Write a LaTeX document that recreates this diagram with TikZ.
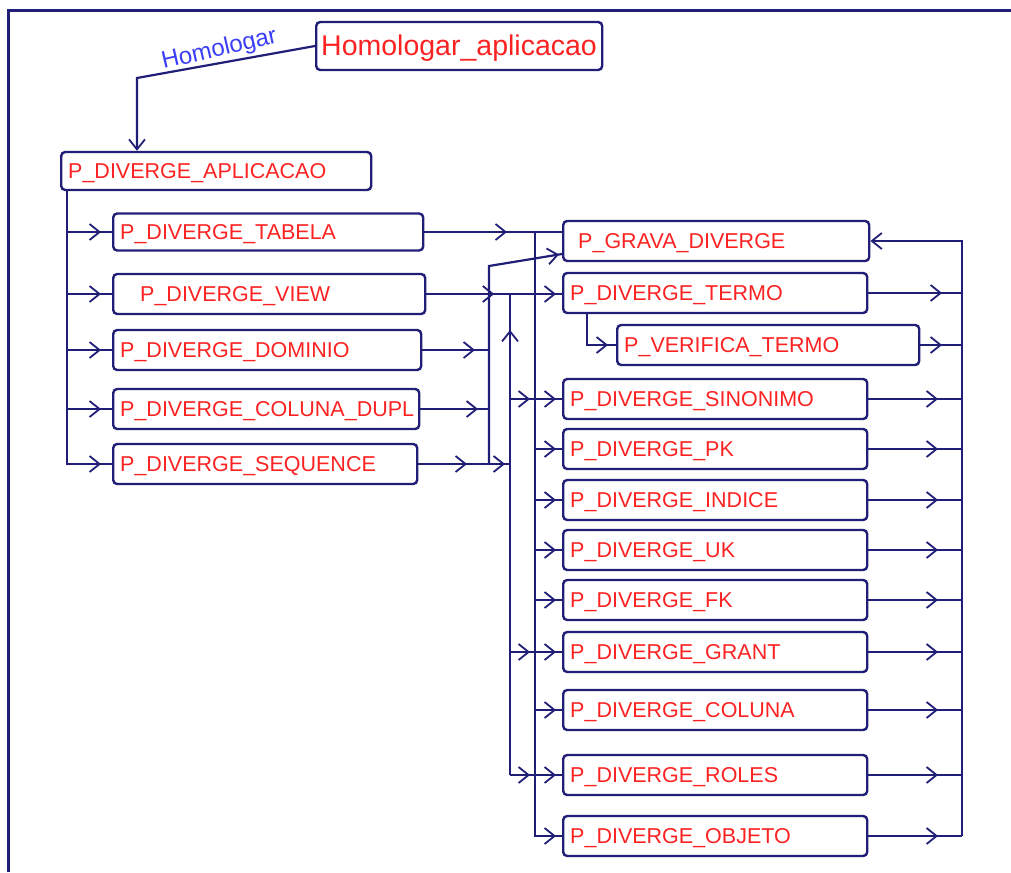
\documentclass[tikz,border=0pt]{standalone}
\usepackage{fontspec}
\setmainfont{Liberation Sans}
\usetikzlibrary{arrows.meta,decorations.markings}
\definecolor{navy}{RGB}{32,30,118}
\definecolor{fnred}{RGB}{252,34,34}
\definecolor{lblblue}{RGB}{58,62,246}

\begin{document}
\begin{tikzpicture}[x=1pt,y=-1pt,
  bb/.tip={Straight Barb[length=10pt,width=16pt,line width=1.8pt]},
  p/.style={draw=navy,line width=2.4pt,rounded corners=4pt,anchor=west,text=fnred,
    font=\fontsize{21.5}{21.5}\selectfont,inner xsep=7pt,inner ysep=0pt,minimum height=40pt,
    text height=14pt,text depth=0pt,text width=#1,align=left},
  p/.default=290pt,
  ln/.style={color=navy,line width=2.2pt},
  ar/.style={ln,postaction={decorate},decoration={markings,mark=at position #1 with {\arrow{bb}}}},
  arr/.style 2 args={ln,postaction={decorate},decoration={markings,
    mark=at position #1 with {\arrow{bb}},mark=at position #2 with {\arrow{bb}}}}]
\useasboundingbox (0,0) rectangle (1011,872);
% frame
\draw[navy,line width=3pt] (8,872) -- (8,10.5) -- (1011,10.5);

% boxes
\node[p=276pt,font=\fontsize{28.5}{28.5}\selectfont,inner xsep=5pt,minimum height=48pt,text height=20pt] (ha) at (315,46) {Homologar\_aplicacao};
\node[p=296pt,minimum height=38pt] (apl) at (60,171) {P\_DIVERGE\_APLICACAO};

\node[p=296pt,minimum height=37pt] (tab) at (112,232) {P\_DIVERGE\_TABELA};
\node[p=298pt] (view) at (112,294) {\hspace*{20pt}P\_DIVERGE\_VIEW};
\node[p=294pt] (dom) at (112,350) {P\_DIVERGE\_DOMINIO};
\node[p=292pt] (dupl) at (112,409) {P\_DIVERGE\_COLUNA\_DUPL};
\node[p=290pt] (seq) at (112,464) {P\_DIVERGE\_SEQUENCE};

\node[p=292pt] (grava) at (562,241) {\hspace*{8pt}P\_GRAVA\_DIVERGE};
\node[p] (termo) at (562,293) {P\_DIVERGE\_TERMO};
\node[p=288pt] (verif) at (616,345) {P\_VERIFICA\_TERMO};
\node[p] (sino) at (562,399) {P\_DIVERGE\_SINONIMO};
\node[p] (pk) at (562,449) {P\_DIVERGE\_PK};
\node[p] (ind) at (562,500) {P\_DIVERGE\_INDICE};
\node[p] (uk) at (562,550) {P\_DIVERGE\_UK};
\node[p] (fk) at (562,600) {P\_DIVERGE\_FK};
\node[p] (grant) at (562,652) {P\_DIVERGE\_GRANT};
\node[p] (col) at (562,710) {P\_DIVERGE\_COLUNA};
\node[p] (roles) at (562,775) {P\_DIVERGE\_ROLES};
\node[p] (obj) at (562,836) {P\_DIVERGE\_OBJETO};

% trunks
\coordinate (hk) at (137,78);
\coordinate (lt) at ([xshift=7pt]apl.south west);
\coordinate (tc) at (489,0);
\coordinate (ck) at (489,266);
\coordinate (tb) at (510,0);
\coordinate (ta) at (535,0);
\coordinate (rt) at (962,0);

% Homologar
\draw[ln,-bb] (ha.west) -- node[pos=0.52,rotate=13,anchor=south,inner sep=1pt,text=lblblue,font=\fontsize{24}{24}\selectfont] (hlbl) {Homologar} (hk) -- (hk |- apl.north);

% left side
\draw[ar=-11pt] (lt) |- (seq.west);
\draw[ar=-11pt] (lt |- tab.west) -- (tab.west);
\draw[ar=-11pt] (lt |- view.west) -- (view.west);
\draw[ar=-11pt] (lt |- dom.west) -- (dom.west);
\draw[ar=-11pt] (lt |- dupl.west) -- (dupl.west);

% middle
\draw[ar=0.6] (tab.east) -- (tab.east -| grava.west);
\draw[arr={0.5}{-6pt}] (view.east) -- (view.east -| termo.west);
\draw[ar=-14pt] (dom.east) -- (tc |- dom.east);
\draw[ar=-11pt] (dupl.east) -- (tc |- dupl.east);
\draw[arr={-43pt}{-5pt}] (seq.east) -- (tb |- seq.east);
\draw[ar=-3pt] (tc |- seq.east) -- (ck) -- ([yshift=-13pt]grava.west);
\draw[ar=-36pt] (tb |- roles.west) -- (tb |- view.east);
\draw[ar=-5pt] (tb |- sino.west) -- (ta |- sino.west);
\draw[ar=-5pt] (tb |- grant.west) -- (ta |- grant.west);
\draw[ar=-5pt] (tb |- roles.west) -- (ta |- roles.west);
\draw[ar=-6pt] (ta |- tab.east) |- (obj.west);
\draw[ar=-6pt] (ta |- sino.west) -- (sino.west);
\draw[ar=-6pt] (ta |- pk.west) -- (pk.west);
\draw[ar=-6pt] (ta |- ind.west) -- (ind.west);
\draw[ar=-6pt] (ta |- uk.west) -- (uk.west);
\draw[ar=-6pt] (ta |- fk.west) -- (fk.west);
\draw[ar=-6pt] (ta |- grant.west) -- (grant.west);
\draw[ar=-6pt] (ta |- col.west) -- (col.west);
\draw[ar=-6pt] (ta |- roles.west) -- (roles.west);
\draw[ar=-8pt] ([xshift=25pt]termo.south west) |- (verif.west);

% right side
\draw[ln,-bb] (rt |- obj.east) -- (rt |- grava.east) -- (grava.east);
\draw[ar=-20pt] (termo.east) -- (rt |- termo.east);
\draw[ar=-20pt] (verif.east) -- (rt |- verif.east);
\draw[ar=-24pt] (sino.east) -- (rt |- sino.east);
\draw[ar=-24pt] (pk.east) -- (rt |- pk.east);
\draw[ar=-24pt] (ind.east) -- (rt |- ind.east);
\draw[ar=-24pt] (uk.east) -- (rt |- uk.east);
\draw[ar=-24pt] (fk.east) -- (rt |- fk.east);
\draw[ar=-24pt] (grant.east) -- (rt |- grant.east);
\draw[ar=-24pt] (col.east) -- (rt |- col.east);
\draw[ar=-24pt] (roles.east) -- (rt |- roles.east);
\draw[ar=-24pt] (obj.east) -- (rt |- obj.east);
\end{tikzpicture}
\end{document}
